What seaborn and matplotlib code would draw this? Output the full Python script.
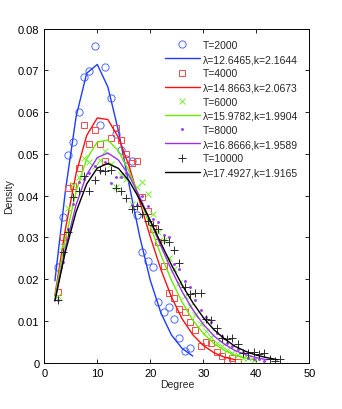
import numpy as np
import pandas as pd
import seaborn as sns
import matplotlib
matplotlib.use("Agg")
import matplotlib.pyplot as plt
from matplotlib.lines import Line2D

# degree bins (bin centres) for each sample size
deg_2000 = [2.5 + i for i in range(26)]
deg_4000 = [2.5 + i for i in range(35)]
deg_6000 = [2.5 + i for i in range(38)]
deg_8000 = [2.5 + i for i in range(40)]
deg_10000 = [2.5 + i for i in range(43)]

dens_2000 = [0.0229, 0.0349, 0.0496, 0.0529, 0.0600, 0.0684, 0.0699, 0.0759, 0.0569, 0.0709,
             0.0634, 0.0548, 0.0510, 0.0488, 0.0484, 0.0354, 0.0266, 0.0243, 0.0229, 0.0145,
             0.0122, 0.0134, 0.0105, 0.0060, 0.0029, 0.0035]
dens_4000 = [0.0169, 0.0302, 0.0418, 0.0424, 0.0466, 0.0568, 0.0524, 0.0557, 0.0524, 0.0482,
             0.0538, 0.0562, 0.0532, 0.0500, 0.0478, 0.0482, 0.0397, 0.0362, 0.0320, 0.0290,
             0.0231, 0.0166, 0.0154, 0.0129, 0.0122, 0.0097, 0.0079, 0.0039, 0.0049, 0.0046,
             0.0025, 0.0017, 0.0007, 0.0011, 0.0002]
dens_6000 = [0.0160, 0.0280, 0.0370, 0.0426, 0.0445, 0.0490, 0.0480, 0.0470, 0.0485, 0.0506,
             0.0475, 0.0420, 0.0450, 0.0440, 0.0380, 0.0420, 0.0432, 0.0403, 0.0355, 0.0313,
             0.0293, 0.0250, 0.0225, 0.0190, 0.0160, 0.0135, 0.0115, 0.0092, 0.0075, 0.0062,
             0.0048, 0.0040, 0.0030, 0.0022, 0.0018, 0.0012, 0.0010, 0.0006]
dens_8000 = [0.0150, 0.0240, 0.0320, 0.0380, 0.0433, 0.0440, 0.0455, 0.0470, 0.0460, 0.0480,
             0.0430, 0.0445, 0.0445, 0.0455, 0.0378, 0.0377, 0.0400, 0.0375, 0.0345, 0.0337,
             0.0305, 0.0301, 0.0237, 0.0225, 0.0195, 0.0181, 0.0150, 0.0125, 0.0110, 0.0097,
             0.0071, 0.0065, 0.0047, 0.0041, 0.0032, 0.0025, 0.0012, 0.0009, 0.0008, 0.0003]
dens_10000 = [0.0151, 0.0264, 0.0313, 0.0397, 0.0412, 0.0448, 0.0410, 0.0437, 0.0461, 0.0460,
              0.0462, 0.0418, 0.0410, 0.0395, 0.0368, 0.0375, 0.0357, 0.0340, 0.0330, 0.0320,
              0.0293, 0.0289, 0.0269, 0.0239, 0.0181, 0.0165, 0.0167, 0.0167, 0.0105, 0.0103,
              0.0082, 0.0059, 0.0057, 0.0059, 0.0045, 0.0023, 0.0023, 0.0025, 0.0021, 0.0023,
              0.0009, 0.0005, 0.0009]

fit_x_2000 = list(range(2, 29, 2))
fit_x_4000 = list(range(2, 37, 2))
fit_x_6000 = list(range(2, 41, 2))
fit_x_8000 = list(range(2, 43, 2))
fit_x_10000 = list(range(2, 45, 2))

fit_2000 = [0.0196, 0.0413, 0.0589, 0.0693, 0.0714, 0.0660, 0.0554, 0.0426, 0.0302, 0.0197,
            0.0119, 0.0066, 0.0034, 0.0016]
fit_4000 = [0.0161, 0.0321, 0.0453, 0.0544, 0.0586, 0.0582, 0.0539, 0.0470, 0.0386, 0.0301,
            0.0223, 0.0157, 0.0105, 0.0067, 0.0041, 0.0024, 0.0013, 0.0007]
fit_6000 = [0.0157, 0.0297, 0.0410, 0.0488, 0.0528, 0.0533, 0.0507, 0.0458, 0.0395, 0.0326,
            0.0258, 0.0197, 0.0145, 0.0102, 0.0070, 0.0046, 0.0029, 0.0018, 0.0011, 0.0006]
fit_8000 = [0.0148, 0.0275, 0.0378, 0.0450, 0.0491, 0.0502, 0.0485, 0.0448, 0.0397, 0.0339,
            0.0279, 0.0222, 0.0170, 0.0127, 0.0092, 0.0064, 0.0044, 0.0029, 0.0019, 0.0012,
            0.0007]
fit_10000 = [0.0148, 0.0267, 0.0361, 0.0428, 0.0466, 0.0477, 0.0465, 0.0435, 0.0391, 0.0340,
             0.0286, 0.0234, 0.0186, 0.0144, 0.0108, 0.0079, 0.0057, 0.0039, 0.0027, 0.0018,
             0.0012, 0.0007]

sample_labels = ["T=2000", "T=4000", "T=6000", "T=8000", "T=10000"]
fit_labels = ["λ=12.6465,k=2.1644", "λ=14.8663,k=2.0673", "λ=15.9782,k=1.9904",
              "λ=16.8666,k=1.9589", "λ=17.4927,k=1.9165"]

sns.set_style("ticks")
plt.rcParams["font.family"] = ["Liberation Sans", "DejaVu Sans"]
plt.rcParams["xtick.direction"] = "in"
plt.rcParams["ytick.direction"] = "in"
plt.rcParams["xtick.top"] = True
plt.rcParams["ytick.right"] = True

fig = plt.figure(figsize=(3.42, 4.10), dpi=100)
ax = fig.add_axes([0.1295, 0.113, 0.775, 0.815])

# (degrees, density, fit x, fit y, line colour, marker colour, marker, size, hollow)
series = [
    (deg_2000, dens_2000, fit_x_2000, fit_2000, "#1f3cff", "#4d6bff", "o", 5.2, True),
    (deg_4000, dens_4000, fit_x_4000, fit_4000, "#ff1010", "#ff4848", "s", 4.8, True),
    (deg_6000, dens_6000, fit_x_6000, fit_6000, "#66ee00", "#77f030", "x", 4.2, False),
    (deg_8000, dens_8000, fit_x_8000, fit_8000, "#9a30ee", "#a040f0", ".", 2.8, False),
    (deg_10000, dens_10000, fit_x_10000, fit_10000, "#000000", "#2a2a2a", "+", 6.0, False),
]

handles = []
labels = []
for i, (dx, dy, fx, fy, col, mcol, mk, ms, hollow) in enumerate(series):
    df = pd.DataFrame({"Degree": dx, "Density": dy})
    kw = dict(marker=mk, linestyle="", markersize=ms, color=mcol, mec=mcol, mew=0.7,
              estimator=None, sort=False)
    if hollow:
        kw["mfc"] = "none"
    sns.lineplot(data=df, x="Degree", y="Density", ax=ax, **kw)
    fdf = pd.DataFrame({"Degree": fx, "Density": fy})
    sns.lineplot(data=fdf, x="Degree", y="Density", ax=ax, color=col, linewidth=1.0,
                 estimator=None, sort=False)
    handles.append(Line2D([], [], linestyle="", marker=mk, markersize=ms, color=mcol,
                          mec=mcol, mew=0.7, mfc="none" if hollow else mcol))
    handles.append(Line2D([], [], color=col, linewidth=1.0))
    labels += [sample_labels[i], fit_labels[i]]

ax.set_xlim(0, 50)
ax.set_ylim(0, 0.08)
ax.set_xticks([0, 10, 20, 30, 40, 50])
ax.set_yticks([0, 0.01, 0.02, 0.03, 0.04, 0.05, 0.06, 0.07, 0.08])
ax.set_yticklabels(["0", "0.01", "0.02", "0.03", "0.04", "0.05", "0.06", "0.07", "0.08"])
ax.tick_params(labelsize=8, length=3, width=0.6, colors="black")
ax.set_xlabel("Degree", fontsize=7.5, labelpad=1)
ax.set_ylabel("Density", fontsize=7.5, labelpad=3)
for s in ax.spines.values():
    s.set_linewidth(0.7)
    s.set_color("black")

ax.legend(handles, labels, loc="upper right", frameon=False, fontsize=7.5,
          handlelength=3.3, handletextpad=0.3, labelspacing=0.4,
          borderaxespad=0.7, borderpad=0.4)

fig.savefig("out.png", dpi=100)
